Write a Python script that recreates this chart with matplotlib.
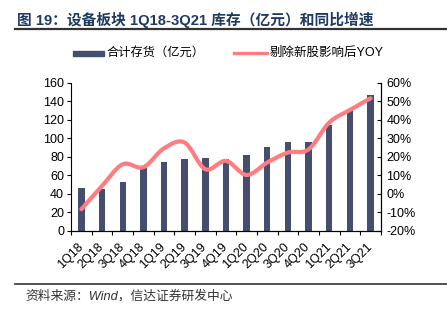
import numpy as np
import matplotlib.pyplot as plt
from matplotlib.path import Path
from matplotlib.patches import PathPatch, Rectangle
from matplotlib.lines import Line2D
from matplotlib.ticker import FuncFormatter

plt.rcParams['font.family'] = ['Liberation Sans', 'Noto Sans CJK SC']

# 季度库存（亿元）与剔除新股影响后的同比增速（%）
quarters = ['1Q18', '2Q18', '3Q18', '4Q18', '1Q19', '2Q19', '3Q19', '4Q19',
            '1Q20', '2Q20', '3Q20', '4Q20', '1Q21', '2Q21', '3Q21']
inventory = [46.0, 45.7, 52.5, 68.7, 74.0, 77.3, 78.8, 77.3,
             81.7, 90.6, 96.4, 96.4, 114.0, 131.3, 146.8]
yoy = [-8.3, 4.3, 16.0, 14.4, 24.6, 27.7, 13.3, 17.8,
       10.2, 16.9, 22.3, 24.0, 38.5, 45.3, 51.6]

bar_color = '#454E6E'
line_color = '#FF7C80'
W, H = 447, 322


def smooth_path(xs, ys):
    # Catmull-Rom 曲线转为三次贝塞尔路径
    pts = np.column_stack([xs, ys]).astype(float)
    verts = [pts[0]]
    codes = [Path.MOVETO]
    n = len(pts)
    for i in range(n - 1):
        p0 = pts[max(i - 1, 0)]
        p1 = pts[i]
        p2 = pts[i + 1]
        p3 = pts[min(i + 2, n - 1)]
        c1 = p1 + (p2 - p0) / 6
        c2 = p2 - (p3 - p1) / 6
        verts += [c1, c2, p2]
        codes += [Path.CURVE4] * 3
    return Path(verts, codes)


def fx(px):
    return px / W


def fy(py):
    return 1 - py / H


fig = plt.figure(figsize=(W / 100, H / 100), dpi=100)
ax = fig.add_axes([0.159, 0.283, 0.693, 0.460])
x = np.arange(len(quarters))

ax.bar(x, inventory, width=0.31, color=bar_color, zorder=2)
ax.set_xlim(-0.5, len(quarters) - 0.5)
ax.set_ylim(0, 160)
ax.set_yticks(np.arange(0, 161, 20))
ax.tick_params(axis='y', direction='out', length=3, labelsize=9, pad=2)

ax.set_xticks(np.arange(-0.5, len(quarters), 1))
ax.set_xticklabels([])
ax.tick_params(axis='x', which='major', direction='out', length=3)
ax.set_xticks(x, minor=True)
ax.set_xticklabels(quarters, minor=True, rotation=45, ha='right', va='center',
                   rotation_mode='anchor', fontsize=9)
ax.tick_params(axis='x', which='minor', length=0, pad=10)
ax.spines['top'].set_visible(False)

ax2 = ax.twinx()
ax2.set_ylim(-20, 60)
ax2.set_yticks(np.arange(-20, 61, 10))
ax2.yaxis.set_major_formatter(FuncFormatter(lambda v, _: f'{v:.0f}%'))
ax2.tick_params(axis='y', direction='in', length=3, labelsize=9, pad=4)
ax2.spines['top'].set_visible(False)
ax2.spines['left'].set_visible(False)
ax2.add_patch(PathPatch(smooth_path(x, yoy), fill=False, edgecolor=line_color,
                        lw=3, capstyle='round', zorder=3))

# 图例
fig.add_artist(Rectangle((fx(73), fy(56)), fx(31), 5 / H, color=bar_color,
                         transform=fig.transFigure))
fig.text(fx(107), fy(53), '合计存货（亿元）', fontsize=8.8, va='center')
fig.add_artist(Line2D([fx(234), fx(267)], [fy(53)] * 2, color=line_color, lw=2.4))
fig.text(fx(270), fy(53), '剔除新股影响后YOY', fontsize=9, va='center')

fig.text(fx(17), fy(20), '图 19：设备板块 1Q18-3Q21 库存（亿元）和同比增速',
         fontsize=10.6, fontweight='bold', color='#1F3A60', va='center')
fig.add_artist(Line2D([fx(15), 1], [fy(28.5)] * 2, color='#333333', lw=1.6))
fig.add_artist(Line2D([fx(15), 1], [fy(284)] * 2, color='#333333', lw=1.2))
fig.text(fx(25), fy(296), '资料来源：Wind，信达证券研发中心',
         fontsize=9.2, style='italic', color='#333333', va='center')

fig.savefig('out.png', dpi=100)
